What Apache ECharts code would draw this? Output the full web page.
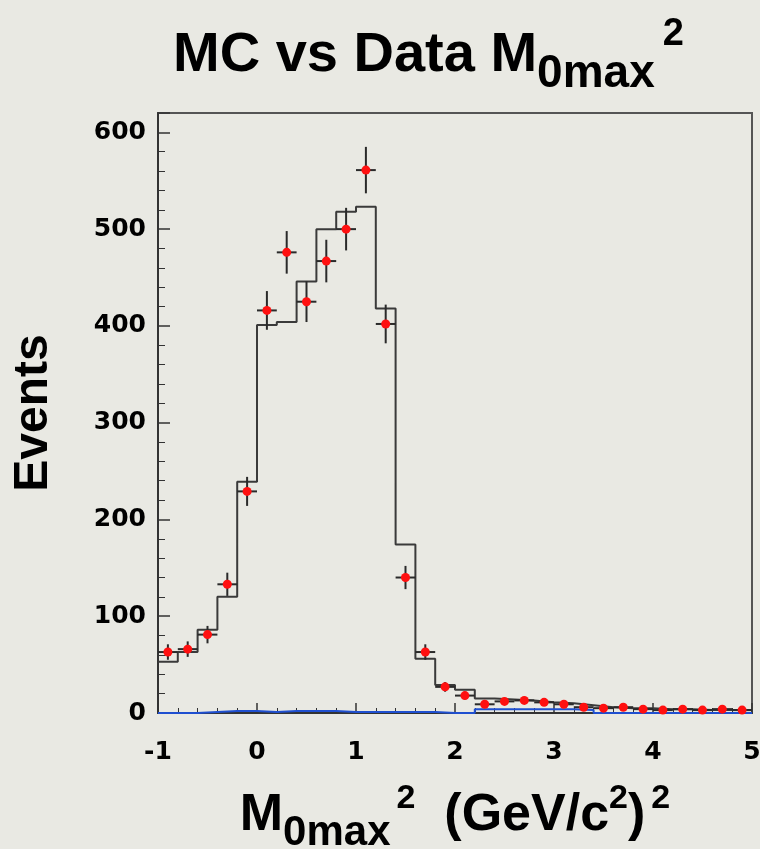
<!DOCTYPE html>
<html>
<head>
<meta charset="utf-8">
<script src="https://cdn.jsdelivr.net/npm/echarts@6/dist/echarts.min.js"></script>
<style>
html,body{margin:0;padding:0;background:#e9e9e3;}
#chart{width:760px;height:849px;}
</style>
</head>
<body>
<div id="chart"></div>
<script>
// Bin centres (bin width 0.2 GeV^2/c^4) from -1 to 5
const binCenters = [-0.9,-0.7,-0.5,-0.3,-0.1,0.1,0.3,0.5,0.7,0.9,1.1,1.3,1.5,1.7,1.9,2.1,2.3,2.5,2.7,2.9,3.1,3.3,3.5,3.7,3.9,4.1,4.3,4.5,4.7,4.9];
const binWidth = 0.2;
// MC histogram (black step line)
const mcValues = [53,63,86,120,239,401,404,446,500,518,523,418,174,56,29,24,15,14,13,11,10,8,6,5,5,4,4,3,3,3];
// Background MC (blue step line)
const bkgValues = [0,0,1,2,2,1,2,2,2,1,1,1,1,1,0,0,4,4,4,4,4,3,0,0,0,0,0,0,0,0];
// Data points and their errors
const dataValues = [63,66,81,133,229,416,476,425,467,500,561,402,140,63,27,18,9,12,13,11,9,6,5,6,4,3,4,3,4,3];
const dataErrors = [8,8,9,12,15,20,22,21,22,22,24,20,12,8,5,4,3,3.5,3.6,3.3,3,2.4,2.2,2.4,2,1.7,2,1.7,2,1.7];
const xTicks = [-1,0,1,2,3,4,5];
const yTicks = [0,100,200,300,400,500,600];

function stepPoints(vals){
  const pts = [];
  for (let i=0;i<binCenters.length;i++){
    pts.push([binCenters[i]-binWidth/2, vals[i]]);
    pts.push([binCenters[i]+binWidth/2, vals[i]]);
  }
  return pts;
}

const chart = echarts.init(document.getElementById('chart'));
const FONT = 'DejaVu Sans';
const TFONT = 'Liberation Sans';
chart.setOption({
  backgroundColor:'#e9e9e3',
  animation:false,
  title:{
    text:'{m|MC vs Data M}{s|0max}{p|2}',
    left:173, top:16, padding:0,
    textStyle:{
      rich:{
        m:{fontFamily:TFONT,fontWeight:'bold',fontSize:56,color:'#000',lineHeight:56,verticalAlign:'top',padding:[12,0,0,0]},
        s:{fontFamily:TFONT,fontWeight:'bold',fontSize:46,color:'#000',lineHeight:46,verticalAlign:'top',padding:[35,0,0,0]},
        p:{fontFamily:TFONT,fontWeight:'bold',fontSize:38,color:'#000',lineHeight:38,verticalAlign:'top',padding:[0,0,0,8]}
      }
    }
  },
  grid:{left:158,right:8,top:113,bottom:136,show:true,borderColor:'#555',borderWidth:2,backgroundColor:'#e9e9e3',outerBoundsMode:'none',containLabel:false},
  xAxis:{
    type:'value',min:-1,max:5,interval:1,
    axisLine:{onZero:false,lineStyle:{color:'#333',width:2}},
    axisTick:{inside:true,length:10,lineStyle:{color:'#333',width:1.5}},
    minorTick:{show:true,splitNumber:5,length:5,lineStyle:{color:'#333',width:1}},
    splitLine:{show:false},
    axisLabel:{fontFamily:FONT,fontWeight:'bold',fontSize:25,color:'#000',margin:27,
      customValues:xTicks},
    name:'{m|M}{s|0max}{p|2}{m|  (GeV/c}{q|2}{m|)}{p|2}',
    nameLocation:'middle',nameGap:69,
    nameTextStyle:{
      rich:{
        m:{fontFamily:TFONT,fontWeight:'bold',fontSize:52,color:'#000',lineHeight:52,verticalAlign:'top',padding:[8,0,0,0]},
        s:{fontFamily:TFONT,fontWeight:'bold',fontSize:42,color:'#000',lineHeight:42,verticalAlign:'top',padding:[30,0,0,0]},
        p:{fontFamily:TFONT,fontWeight:'bold',fontSize:34,color:'#000',lineHeight:34,verticalAlign:'top',padding:[0,0,0,6]},
        q:{fontFamily:TFONT,fontWeight:'bold',fontSize:34,color:'#000',lineHeight:34,verticalAlign:'top',padding:[0,0,0,0]}
      }
    }
  },
  yAxis:{
    type:'value',min:0,max:620,interval:100,
    axisLine:{show:true,onZero:false,lineStyle:{color:'#333',width:2}},
    axisTick:{inside:true,length:12,lineStyle:{color:'#333',width:1.5}},
    minorTick:{show:true,splitNumber:5,length:7,lineStyle:{color:'#333',width:1}},
    splitLine:{show:false},
    axisLabel:{fontFamily:FONT,fontWeight:'bold',fontSize:25,color:'#000',margin:12,customValues:yTicks},
    name:'Events',nameLocation:'middle',nameRotate:90,nameGap:100,
    nameTextStyle:{fontFamily:TFONT,fontWeight:'bold',fontSize:48,color:'#000'}
  },
  series:[
    {
      type:'line',name:'MC',data:stepPoints(mcValues),showSymbol:false,
      lineStyle:{color:'#3a3a3a',width:2},z:2
    },
    {
      type:'line',name:'Background',data:stepPoints(bkgValues),showSymbol:false,
      lineStyle:{color:'#1f4fd0',width:2},z:3
    },
    {
      type:'custom',name:'Data',z:5,
      data:binCenters.map((x,i)=>[x,dataValues[i],dataErrors[i]]),
      renderItem:function(params,api){
        const x=api.value(0),y=api.value(1),e=api.value(2);
        const c=api.coord([x,y]);
        const t=api.coord([x,y+e]);
        const b=api.coord([x,Math.max(y-e,0)]);
        const l=api.coord([x-binWidth/2,y]);
        const r=api.coord([x+binWidth/2,y]);
        const st={stroke:'#2a2a2a',lineWidth:2};
        return {type:'group',children:[
          {type:'line',shape:{x1:t[0],y1:t[1],x2:b[0],y2:b[1]},style:st},
          {type:'line',shape:{x1:l[0],y1:l[1],x2:r[0],y2:r[1]},style:st},
          {type:'circle',shape:{cx:c[0],cy:c[1],r:4.5},style:{fill:'#ff1010'}}
        ]};
      }
    }
  ]
});
</script>
</body>
</html>
